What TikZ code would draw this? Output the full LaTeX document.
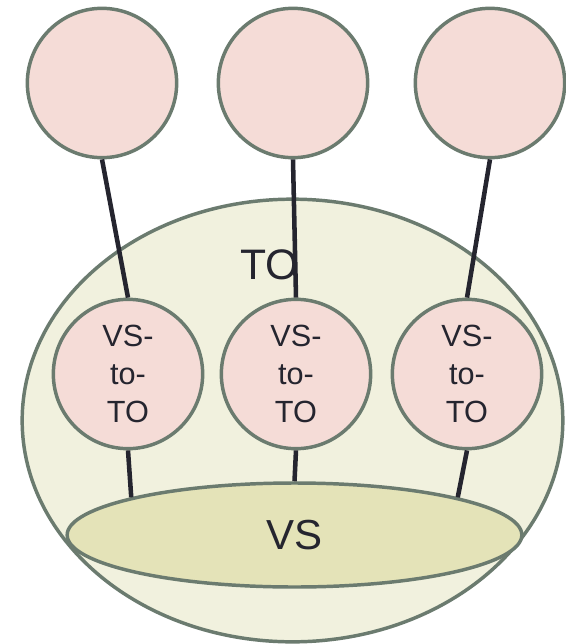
\documentclass[tikz,border=0pt]{standalone}
\usepackage{fontspec}
\setmainfont{Liberation Sans}
\usetikzlibrary{shapes.geometric}
\definecolor{edgegray}{HTML}{6B7B6F}
\definecolor{pinkfill}{HTML}{F5DCD7}
\definecolor{palefill}{HTML}{F1F1DE}
\definecolor{olivefill}{HTML}{E4E3B8}
\definecolor{inkdark}{HTML}{25252F}
\tikzset{
  circ/.style={circle,draw=edgegray,fill=pinkfill,line width=2.6pt,minimum size=112pt,inner sep=0pt,
    text=inkdark,align=center,font=\fontsize{23}{28.5}\selectfont},
  bigell/.style={ellipse,draw=edgegray,fill=palefill,line width=2.6pt,minimum width=405.5pt,minimum height=332pt,inner sep=0pt},
  vsell/.style={ellipse,draw=edgegray,fill=olivefill,line width=2.6pt,minimum width=341pt,minimum height=78pt,inner sep=0pt,
    text=inkdark,font=\fontsize{31.5}{36}\selectfont},
  link/.style={draw=inkdark,line width=3.4pt}
}
\begin{document}
\begin{tikzpicture}[x=0.75pt,y=0.75pt,yscale=-1,xscale=1]
\useasboundingbox (0,0) rectangle (566,644);
\node [bigell] (to) at (292.5,420.5) {};
% Text Node
\node [inner sep=0pt,text=inkdark,font=\fontsize{32}{36}\selectfont] (tolabel) at (269.5,265) {TO};
\node [circ] (t1) at (102,83) {};
\node [circ] (t2) at (293,83) {};
\node [circ] (t3) at (490,83) {};
\node [circ] (m1) at (128,374) {VS-\\to-\\TO};
\node [circ] (m2) at (296,374) {VS-\\to-\\TO};
\node [circ] (m3) at (467,374) {VS-\\to-\\TO};
\node [vsell] (vs) at (294.5,535) {VS};
\draw [link] (t1.south) -- (m1.north);
\draw [link] (t2.south) -- (m2.north);
\draw [link] (t3.south) -- (m3.north);
\draw [link] (m1.south) -- (vs.167);
\draw [link] (m2.south) -- (vs.north);
\draw [link] (m3.south) -- (vs.13);
\end{tikzpicture}
\end{document}
